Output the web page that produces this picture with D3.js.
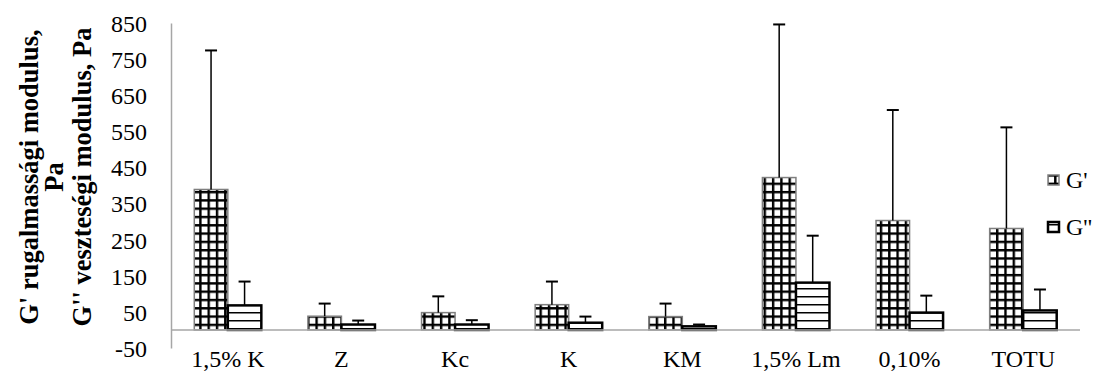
<!DOCTYPE html>
<html>
<head>
<meta charset="utf-8">
<title>G' / G'' bar chart</title>
<script src="https://d3js.org/d3.v7.min.js"></script>
<style>
  body { margin: 0; background: #fff; }
  text { font-family: "Liberation Serif", "Times New Roman", serif; fill: #000; }
</style>
</head>
<body>
<script>
// data
var categories = ["1,5% K", "Z", "Kc", "K", "KM", "1,5% Lm", "0,10%", "TOTU"];
var gPrime = [389, 38, 48, 70, 37, 422, 303, 281];
var gPrimeErr = [385, 35, 45, 64, 36, 424, 306, 280];
var gDouble = [68, 15, 15, 20, 10, 131, 48, 54];
var gDoubleErr = [66, 11, 12, 17, 5, 130, 47, 58];
var yTicks = [-50, 50, 150, 250, 350, 450, 550, 650, 750, 850];
var seriesNames = ["G'", "G''"];

var width = 1096, height = 374;
var plot = {left: 171, right: 1080, top: 23, bottom: 348};

var svg = d3.select("body").append("svg")
  .attr("width", width)
  .attr("height", height);

// patterns
var defs = svg.append("defs");
var grid = defs.append("pattern").attr("id", "gridPat")
  .attr("patternUnits", "userSpaceOnUse")
  .attr("width", 8.3).attr("height", 8.3);
grid.append("rect").attr("width", 8.3).attr("height", 8.3).attr("fill", "#fff");
grid.append("rect").attr("x", 0).attr("y", 0).attr("width", 2.4).attr("height", 8.3).attr("fill", "#000");
grid.append("rect").attr("x", 0).attr("y", 0).attr("width", 8.3).attr("height", 2.4).attr("fill", "#000");

var horiz = defs.append("pattern").attr("id", "horizPat")
  .attr("patternUnits", "userSpaceOnUse")
  .attr("width", 8).attr("height", 8);
horiz.append("rect").attr("width", 8).attr("height", 8).attr("fill", "#fff");
horiz.append("rect").attr("x", 0).attr("y", 0).attr("width", 8).attr("height", 1.5).attr("fill", "#000");

// scales
var x = d3.scaleBand().domain(categories).range([plot.left, plot.right]).paddingInner(0).paddingOuter(0);
var y = d3.scaleLinear().domain([-50, 850]).range([plot.bottom, plot.top]);
var barW = x.bandwidth() * 0.295;

// y axis
var yAxis = d3.axisLeft(y).tickValues(yTicks).tickSize(0).tickPadding(24)
  .tickFormat(function(d) { return String(d); });
var yg = svg.append("g").attr("transform", "translate(" + plot.left + ",0)").call(yAxis);
yg.select(".domain").attr("stroke", "#a6a6a6").attr("stroke-width", 1.5);
yg.selectAll("text").style("font-size", "24px").attr("dy", "0.35em");

// bars
var groups = svg.selectAll(".cat").data(categories).enter().append("g").attr("class", "cat");

groups.append("rect")
  .attr("x", function(d) { return x(d) + x.bandwidth() / 2 - barW; })
  .attr("y", function(d, i) { return y(gPrime[i]); })
  .attr("width", barW)
  .attr("height", function(d, i) { return y(0) - y(gPrime[i]); })
  .attr("fill", "url(#gridPat)")
  .attr("stroke", "#7f7f7f").attr("stroke-width", 1.5);

groups.append("rect")
  .attr("x", function(d) { return x(d) + x.bandwidth() / 2; })
  .attr("y", function(d, i) { return y(gDouble[i]); })
  .attr("width", barW)
  .attr("height", function(d, i) { return y(0) - y(gDouble[i]); })
  .attr("fill", "url(#horizPat)")
  .attr("stroke", "#000").attr("stroke-width", 2.5);

// x axis line at 0
svg.append("line")
  .attr("x1", plot.left).attr("x2", plot.right)
  .attr("y1", y(0)).attr("y2", y(0))
  .attr("stroke", "#a6a6a6").attr("stroke-width", 1.5);

// error bars (plus only)
function errBars(vals, errs, offset) {
  var g = svg.append("g");
  categories.forEach(function(c, i) {
    var cx = x(c) + x.bandwidth() / 2 + offset;
    var top = y(vals[i] + errs[i]);
    g.append("line").attr("x1", cx).attr("x2", cx)
      .attr("y1", y(vals[i])).attr("y2", top)
      .attr("stroke", "#000").attr("stroke-width", 1.5);
    g.append("line").attr("x1", cx - 6).attr("x2", cx + 6)
      .attr("y1", top).attr("y2", top)
      .attr("stroke", "#000").attr("stroke-width", 2);
  });
}
errBars(gPrime, gPrimeErr, -barW / 2);
errBars(gDouble, gDoubleErr, barW / 2);

// x labels
svg.append("g").selectAll("text").data(categories).enter().append("text")
  .attr("x", function(d) { return x(d) + x.bandwidth() / 2; })
  .attr("y", 367)
  .attr("text-anchor", "middle")
  .style("font-size", "24px")
  .text(function(d) { return d; });

// y title
var title = svg.append("text")
  .attr("transform", "translate(0,177) rotate(-90)")
  .attr("text-anchor", "middle")
  .style("font-size", "26.5px").style("font-weight", "bold");
title.append("tspan").attr("x", 0).attr("y", 38).text("G' rugalmassági modulus,");
title.append("tspan").attr("x", 0).attr("y", 63).text("Pa");
title.append("tspan").attr("x", 0).attr("y", 91).text("G'' veszteségi modulus, Pa");

// legend
var legend = svg.append("g");
var legY = [180, 227];
legend.append("rect").attr("x", 1048).attr("y", legY[0] - 5).attr("width", 11).attr("height", 10)
  .attr("fill", "url(#gridPat)").attr("stroke", "#7f7f7f").attr("stroke-width", 1.5);
legend.append("rect").attr("x", 1048).attr("y", legY[1] - 5).attr("width", 11).attr("height", 10)
  .attr("fill", "url(#horizPat)").attr("stroke", "#000").attr("stroke-width", 2.5);
legend.selectAll("text").data(seriesNames).enter().append("text")
  .attr("x", 1066).attr("y", function(d, i) { return legY[i]; })
  .attr("dy", "0.35em")
  .style("font-size", "24px")
  .text(function(d) { return d; });
</script>
</body>
</html>
